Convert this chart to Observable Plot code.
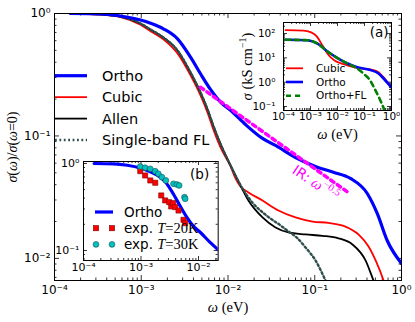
<!DOCTYPE html>
<html><head><meta charset="utf-8">
<script src="https://cdn.jsdelivr.net/npm/d3@7"></script>
<script src="https://cdn.jsdelivr.net/npm/@observablehq/plot@0.6"></script>
<style>
body{margin:0;background:#fff;}
#wrap{position:relative;width:415px;height:322px;font-family:"DejaVu Sans",sans-serif;}
#wrap > svg{position:absolute;}
</style></head><body><div id="wrap"></div>
<script>
// ---------- main panel data: sigma(w)/sigma(0) ----------
const orthoW = [1.53e-4,3.39e-4,5.77e-4,9.8e-4,1.28e-3,1.80e-3,2.62e-3,3.70e-3,4.82e-3,6.28e-3,8.20e-3,1.07e-2,1.59e-2,2.50e-2,3.53e-2,6.00e-2,0.107,0.164,0.258,0.403,0.525,0.684,1.0];
const orthoS = [1.0,0.991,0.954,0.885,0.833,0.750,0.621,0.440,0.322,0.240,0.189,0.162,0.124,0.0954,0.0836,0.0667,0.0556,0.0506,0.0450,0.0339,0.0233,0.0140,0.0091];
const cubicW = [1.53e-4,3.39e-4,5.77e-4,9.8e-4,1.28e-3,1.80e-3,2.62e-3,3.70e-3,4.82e-3,5.81e-3,6.81e-3,8.20e-3,1.07e-2,1.22e-2,1.39e-2,1.72e-2,2.50e-2,3.82e-2,6.00e-2,9.42e-2,0.144,0.226,0.319,0.417,0.515,0.621,0.708];
const cubicS = [1.0,0.978,0.935,0.810,0.718,0.615,0.471,0.312,0.214,0.155,0.112,0.0805,0.0564,0.0450,0.0387,0.0346,0.0297,0.0246,0.0216,0.0200,0.0195,0.0182,0.0157,0.0125,0.00927,0.00661,0.00499];
const allenW = [1.53e-4,3.39e-4,5.77e-4,9.8e-4,1.28e-3,1.80e-3,2.62e-3,3.70e-3,4.82e-3,5.81e-3,6.81e-3,8.20e-3,1.07e-2,1.32e-2,1.72e-2,2.50e-2,3.53e-2,4.98e-2,7.82e-2,0.123,0.188,0.272,0.385,0.475,0.588];
const allenS = [1.0,0.985,0.945,0.829,0.740,0.637,0.499,0.330,0.2265,0.165,0.120,0.0860,0.0574,0.0425,0.0297,0.0216,0.0179,0.0163,0.0157,0.0153,0.0146,0.0130,0.00963,0.00661,0.00454];
const flW = [1.53e-4,3.39e-4,5.77e-4,9.8e-4,1.28e-3,1.80e-3,2.62e-3,3.70e-3,4.82e-3,5.81e-3,6.81e-3,8.20e-3,1.07e-2,1.32e-2,1.91e-2,2.78e-2,4.03e-2,4.98e-2,6.32e-2,7.82e-2,0.102,0.133,0.160];
const flS = [1.0,0.985,0.945,0.829,0.740,0.637,0.499,0.330,0.2265,0.165,0.120,0.0860,0.0574,0.0425,0.0286,0.0224,0.0186,0.0166,0.0146,0.0123,0.00963,0.00661,0.00499];
const irW = [4.8e-3,0.237];
const irS = [0.25,0.035];
const irLabelW = [0.102], irLabelS = [0.041];

// ---------- inset (a): sigma in kS/cm ----------
const aCubicW = [1.19e-4,5.5e-4,1e-3,1.67e-3,2.78e-3,4.64e-3,7.74e-3,1.67e-2,3.92e-2,0.119,0.278,0.506,0.958];
const aCubicS = [139,133,115,78.9,32.1,13.1,7.76,5.58,4.20,3.47,2.88,1.63,0.621];
const aOrthoW = [1.19e-4,7.74e-4,1.82e-3,4.26e-3,1e-2,2.15e-2,5.06e-2,0.167,0.330,0.551,1.0];
const aOrthoS = [55.6,53.1,38.8,18.2,9.83,6.13,4.20,3.16,2.27,1.29,0.604];
const aFLW = [1.19e-4,7.74e-4,1.82e-3,4.26e-3,1e-2,2.15e-2,5.06e-2,0.1,0.167,0.234,0.359,0.551,0.653];
const aFLS = [55.6,53.1,38.8,18.2,9.83,6.13,3.82,2.07,1.12,0.549,0.213,0.0684,0.0388];

// ---------- inset (b): experiment ----------
const exp20W = [9.7e-4,1.18e-3,1.45e-3,1.77e-3,2.25e-3,2.63e-3,3.09e-3,3.35e-3,3.63e-3,3.93e-3,4.49e-3,5.48e-3,5.87e-3];
const exp20S = [0.816,0.728,0.638,0.600,0.429,0.376,0.359,0.321,0.350,0.315,0.288,0.225,0.206];
const exp30W = [9.7e-4,1.18e-3,1.45e-3,1.77e-3,2.01e-3,2.31e-3,2.71e-3,3.67e-3,4.21e-3,4.61e-3,5.71e-3,5.87e-3];
const exp30S = [0.924,0.893,0.869,0.816,0.761,0.696,0.638,0.584,0.574,0.559,0.410,0.393];

// ---------- ticks / labels ----------
const xMajor = [1e-4,1e-3,1e-2,1e-1,1];
const xTickLabels = ["10⁻⁴","10⁻³","10⁻²","10⁻¹","10⁰"];
const yMajor = [1e-2,1e-1,1];
const yTickLabels = ["10⁻²","10⁻¹","10⁰"];
const aYMajor = [0.1,1,10,100];
const aYTickLabels = ["10⁻¹","10⁰","10¹","10²"];
const bXMajor = [1e-4,1e-3,1e-2];
const bXTickLabels = ["10⁻⁴","10⁻³","10⁻²"];
const bYMajor = [0.1,1];
const bYTickLabels = ["10⁻¹","10⁰"];
const mainNames = ["Ortho","Cubic","Allen","Single-band FL"];
const aNames = ["Cubic","Ortho","Ortho+FL"];

const BLUE="#0000ff", RED="#ff0000", FLC="#2f4f4f", MAG="#ff00ff", GREEN="#008000", CYAN="#00bfbf";
const SERIF="Liberation Serif", SANS="DejaVu Sans";

const zip = (w,s) => w.map((v,i)=>({w:v,s:s[i]}));
function minorTicks(lo,hi){const out=[];for(let e=Math.floor(Math.log10(lo));e<=Math.ceil(Math.log10(hi));e++)for(let k=2;k<=9;k++){const v=k*Math.pow(10,e);if(v>=lo*0.999&&v<=hi*1.001)out.push(v);}return out;}
function frameTicks(xMaj,xMin,yMaj,yMin,fw,fh,maj,min){
  const o={stroke:"black",strokeWidth:0.8};
  return [
    Plot.tickX(xMaj,{x:d=>d,insetTop:fh-maj,...o}),Plot.tickX(xMaj,{x:d=>d,insetBottom:fh-maj,...o}),
    Plot.tickX(xMin,{x:d=>d,insetTop:fh-min,...o}),Plot.tickX(xMin,{x:d=>d,insetBottom:fh-min,...o}),
    Plot.tickY(yMaj,{y:d=>d,insetRight:fw-maj,...o}),Plot.tickY(yMaj,{y:d=>d,insetLeft:fw-maj,...o}),
    Plot.tickY(yMin,{y:d=>d,insetRight:fw-min,...o}),Plot.tickY(yMin,{y:d=>d,insetLeft:fw-min,...o})
  ];
}
const lk = (arr,labels)=> d => labels[arr.findIndex(v=>Math.abs(v-d)/v<1e-6)];
function rich(svg,str,parts){
  const t=Array.from(svg.querySelectorAll("text")).find(e=>e.textContent===str);
  if(!t) return;
  t.textContent="";
  for(const p of parts){
    const ts=document.createElementNS("http://www.w3.org/2000/svg","tspan");
    ts.textContent=p.t;
    ts.setAttribute("font-family",p.ff||SERIF);
    if(p.fs) ts.setAttribute("font-size",p.fs);
    if(p.it) ts.setAttribute("font-style","italic");
    if(p.dy) ts.setAttribute("dy",p.dy);
    t.appendChild(ts);
  }
}
const baseStyle={background:"transparent",fontFamily:SANS,overflow:"visible"};

// ---------- main ----------
const mainYDom=[0.0066,1];
const main = Plot.plot({
  width:415,height:322,marginLeft:54,marginRight:14,marginTop:13,marginBottom:42,
  x:{type:"log",domain:[1e-4,1]}, y:{type:"log",domain:mainYDom},
  style:baseStyle,
  marks:[
    ...frameTicks(xMajor,minorTicks(1e-4,1),yMajor,minorTicks(mainYDom[0],1),347,267,5,2.5),
    Plot.line(zip(cubicW,cubicS),{x:"w",y:"s",stroke:RED,strokeWidth:1.8,curve:"monotone-x",clip:true}),
    Plot.line(zip(allenW,allenS),{x:"w",y:"s",stroke:"black",strokeWidth:1.8,curve:"monotone-x",clip:true}),
    Plot.line(zip(flW,flS),{x:"w",y:"s",stroke:FLC,strokeWidth:2.4,strokeDasharray:"1.8,2.6",curve:"monotone-x",clip:true}),
    Plot.line(zip(orthoW,orthoS),{x:"w",y:"s",stroke:BLUE,strokeWidth:3.2,curve:"monotone-x",clip:true}),
    Plot.line(zip(irW,irS),{x:"w",y:"s",stroke:MAG,strokeWidth:3.5,strokeDasharray:"4,4"}),
    Plot.text(zip(irLabelW,irLabelS),{x:"w",y:"s",text:()=>"IRLBL",rotate:34,fill:MAG,fontSize:14}),
    Plot.axisX(xMajor,{anchor:"bottom",tickSize:0,tickPadding:5,tickFormat:lk(xMajor,xTickLabels),fontSize:12,label:null}),
    Plot.axisY(yMajor,{anchor:"left",tickSize:0,tickPadding:4,tickFormat:lk(yMajor,yTickLabels),fontSize:12,label:null}),
    Plot.text(["YLBL"],{frameAnchor:"left",dx:-42,rotate:-90,textAnchor:"middle",lineAnchor:"middle",text:d=>d,fontSize:14}),
    Plot.text(["XLBL"],{frameAnchor:"bottom",dy:27,textAnchor:"middle",lineAnchor:"middle",text:d=>d,fontSize:14.5}),
    Plot.frame({stroke:"black",strokeWidth:1})
  ]
});
rich(main,"IRLBL",[{t:"IR: ",ff:SANS,fs:14},{t:"ω",it:true,fs:15},{t:"−0.5",fs:10.5,dy:"-0.6em"}]);
rich(main,"YLBL",[{t:"σ",it:true},{t:"("},{t:"ω",it:true},{t:")/"},{t:"σ",it:true},{t:"("},{t:"ω",it:true},{t:"=0)"}]);
rich(main,"XLBL",[{t:"ω",it:true},{t:" (eV)"}]);
main.style.left="0px";main.style.top="0px";

// ---------- inset (a) ----------
const aYDom=[0.0685,285];
const insetA = Plot.plot({
  width:152,height:124,marginLeft:40,marginRight:4,marginTop:3,marginBottom:33,
  x:{type:"log",domain:[1e-4,1]}, y:{type:"log",domain:aYDom},
  style:baseStyle,
  marks:[
    Plot.frame({fill:"white",stroke:null}),
    ...frameTicks(xMajor,minorTicks(1e-4,1),aYMajor,minorTicks(aYDom[0],aYDom[1]),108,88,4,2),
    Plot.line(zip(aCubicW,aCubicS),{x:"w",y:"s",stroke:RED,strokeWidth:1.8,curve:"monotone-x",clip:true}),
    Plot.line(zip(aOrthoW,aOrthoS),{x:"w",y:"s",stroke:BLUE,strokeWidth:2.6,curve:"monotone-x",clip:true}),
    Plot.line(zip(aFLW,aFLS),{x:"w",y:"s",stroke:GREEN,strokeWidth:2.6,strokeDasharray:"5,4",curve:"monotone-x",clip:true}),
    Plot.axisX(xMajor,{anchor:"bottom",tickSize:0,tickPadding:2,tickFormat:lk(xMajor,xTickLabels),fontSize:10.5,label:null}),
    Plot.axisY(aYMajor,{anchor:"left",tickSize:0,tickPadding:8,tickFormat:lk(aYMajor,aYTickLabels),fontSize:10.5,label:null}),
    Plot.text(["(a)"],{frameAnchor:"top-right",dx:-3,dy:5,lineAnchor:"top",fontSize:13.5}),
    Plot.text(["AYLBL"],{frameAnchor:"left",dx:-36,rotate:-90,textAnchor:"middle",lineAnchor:"middle",text:d=>d,fontSize:14.5}),
    Plot.text(["AXLBL"],{frameAnchor:"bottom",dy:24,textAnchor:"middle",lineAnchor:"middle",text:d=>d,fontSize:14.5}),
    Plot.frame({stroke:"black",strokeWidth:1})
  ]
});
rich(insetA,"AYLBL",[{t:"σ",it:true},{t:" (kS cm"},{t:"−1",fs:10,dy:"-0.6em"},{t:")",dy:"0.42em"}]);
rich(insetA,"AXLBL",[{t:"ω",it:true},{t:" (eV)"}]);
insetA.style.left="243px";insetA.style.top="19px";

// ---------- inset (b) ----------
const bXDom=[1e-4,0.022], bYDom=[0.0767,1.054];
const insetB = Plot.plot({
  width:177.7,height:122,marginLeft:40,marginRight:3,marginTop:3,marginBottom:20,
  x:{type:"log",domain:bXDom}, y:{type:"log",domain:bYDom},
  style:baseStyle,
  marks:[
    Plot.frame({fill:"white",stroke:null}),
    ...frameTicks(bXMajor,minorTicks(bXDom[0],bXDom[1]),bYMajor,minorTicks(bYDom[0],bYDom[1]),134.7,99,4,2),
    Plot.line(zip(orthoW,orthoS),{x:"w",y:"s",stroke:BLUE,strokeWidth:3.2,curve:"monotone-x",clip:true}),
    Plot.dot(zip(exp20W,exp20S),{x:"w",y:"s",symbol:"square",r:2.9,fill:RED,stroke:"#7a0000",strokeWidth:0.6}),
    Plot.dot(zip(exp30W,exp30S),{x:"w",y:"s",symbol:"circle",r:2.9,fill:CYAN,stroke:"#1f4f4f",strokeWidth:0.6}),
    Plot.axisX(bXMajor,{anchor:"bottom",tickSize:0,tickPadding:3,tickFormat:lk(bXMajor,bXTickLabels),fontSize:11,label:null}),
    Plot.axisY(bYMajor,{anchor:"left",tickSize:0,tickPadding:4,tickFormat:lk(bYMajor,bYTickLabels),fontSize:11,label:null}),
    Plot.text(["(b)"],{frameAnchor:"top-right",dx:-9,dy:8,lineAnchor:"top",fontSize:13.5}),
    Plot.frame({stroke:"black",strokeWidth:1})
  ]
});
insetB.style.left="43.3px";insetB.style.top="158px";

const wrap=document.getElementById("wrap");
wrap.appendChild(main);wrap.appendChild(insetA);wrap.appendChild(insetB);

// ---------- legends (overlay) ----------
const ov=d3.select(wrap).append("svg").attr("width",415).attr("height",322)
  .style("left","0px").style("top","0px").attr("font-family",SANS);
const mainCols=[BLUE,RED,"black",FLC], mainWid=[3.2,1.8,1.8,2.4], mainDash=[null,null,null,"1.8,2.6"];
mainNames.forEach((n,i)=>{
  const y=75.7+i*21.45;
  ov.append("line").attr("x1",55).attr("x2",87).attr("y1",y).attr("y2",y)
    .attr("stroke",mainCols[i]).attr("stroke-width",mainWid[i]).attr("stroke-dasharray",mainDash[i]);
  ov.append("text").attr("x",102).attr("y",y).attr("dy","0.36em").attr("font-size",14.5).text(n);
});
const aCols=[RED,BLUE,GREEN], aWid=[1.8,2.6,2.6], aDash=[null,null,"5,4"];
aNames.forEach((n,i)=>{
  const y=68.3+i*13.7;
  ov.append("line").attr("x1",286).attr("x2",303).attr("y1",y).attr("y2",y)
    .attr("stroke",aCols[i]).attr("stroke-width",aWid[i]).attr("stroke-dasharray",aDash[i]);
  ov.append("text").attr("x",316).attr("y",y).attr("dy","0.36em").attr("font-size",10.5).text(n);
});
// inset (b) legend
{
  const y0=212, step=16.2;
  ov.append("line").attr("x1",95).attr("x2",113).attr("y1",y0).attr("y2",y0).attr("stroke",BLUE).attr("stroke-width",3.2);
  ov.append("text").attr("x",124).attr("y",y0).attr("dy","0.36em").attr("font-size",13.5).text("Ortho");
  const bLab=[["20K"],["30K"]];
  [0,1].forEach(i=>{
    const y=y0+(i+1)*step;
    [96,112].forEach(x=>{
      if(i===0) ov.append("rect").attr("x",x-2.6).attr("y",y-2.6).attr("width",5.2).attr("height",5.2).attr("fill",RED).attr("stroke","#7a0000").attr("stroke-width",0.6);
      else ov.append("circle").attr("cx",x).attr("cy",y).attr("r",2.9).attr("fill",CYAN).attr("stroke","#1f4f4f").attr("stroke-width",0.6);
    });
    const t=ov.append("text").attr("x",124).attr("y",y).attr("dy","0.36em").attr("font-size",13.5);
    t.append("tspan").text("exp. ");
    t.append("tspan").attr("font-family",SERIF).attr("font-style","italic").attr("font-size",14.5).text("T");
    t.append("tspan").attr("font-family",SERIF).attr("font-size",14.5).text("="+bLab[i][0]);
  });
}
</script></body></html>
